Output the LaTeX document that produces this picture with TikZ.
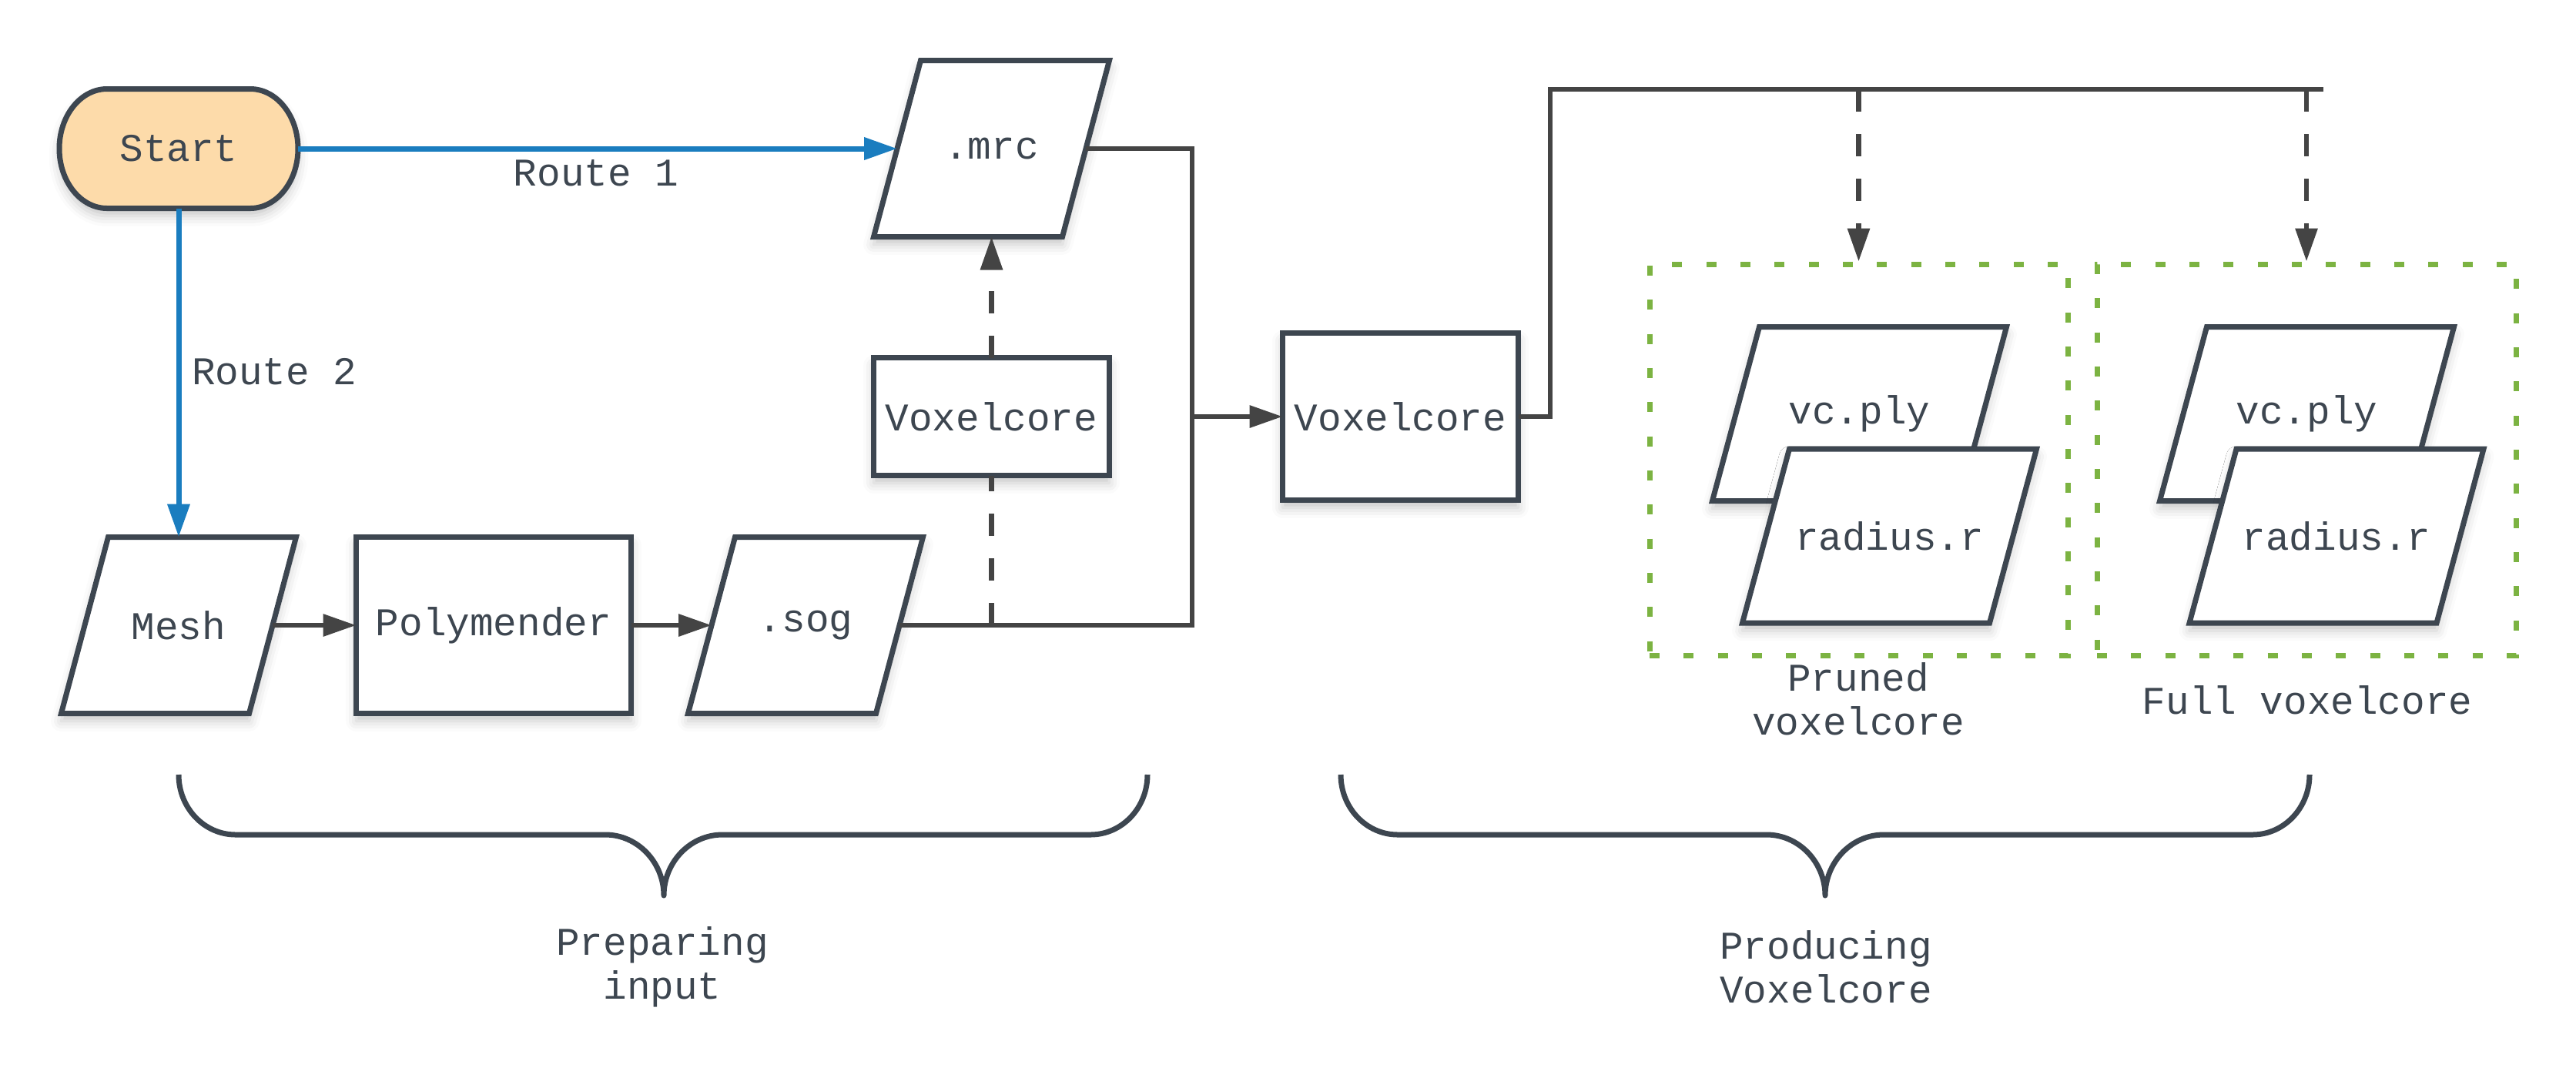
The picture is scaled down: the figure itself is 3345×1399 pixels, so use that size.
\documentclass[tikz,border=0pt]{standalone}
\usepackage{fontspec}
\setmonofont{Liberation Mono}
\usetikzlibrary{arrows.meta,shadows.blur}
\definecolor{bord}{HTML}{3D4650}
\definecolor{conc}{HTML}{444444}
\definecolor{bluec}{HTML}{1A7DBF}
\definecolor{greenc}{HTML}{7CB342}
\definecolor{startc}{HTML}{FDDBAA}
\tikzset{
  lbl/.style={font=\ttfamily\fontsize{15.3}{17.1}\selectfont, text=bord, inner sep=0pt, outer sep=0pt, align=center},
  boxsh/.style={blur shadow={shadow xshift=0pt, shadow yshift=-3pt, shadow blur radius=4pt, shadow opacity=22}},
  shapeline/.style={draw=bord, line width=2.1pt, fill=white, line join=miter, boxsh},
  conn/.style={draw=conc, line width=1.9pt},
  tip/.style={-{Triangle[length=12.9pt,width=8.4pt]}},
  dconn/.style={conn, dash pattern=on 8.7pt off 8.7pt},
  blueconn/.style={draw=bluec, line width=2.1pt, -{Triangle[length=12.9pt,width=8.4pt]}},
  greenbox/.style={draw=greenc, line width=2.1pt, dash pattern=on 3.9pt off 9.4pt, inner sep=0pt},
  bracestyle/.style={draw=bord, line width=2.1pt, line join=round},
}
\newcommand\pgram[7]{%
  \path[shapeline] ({#2-#4/2+#6/2},{#3-#5/2}) -- ({#2+#4/2+#6/2},{#3-#5/2}) -- ({#2+#4/2-#6/2},{#3+#5/2}) -- ({#2-#4/2-#6/2},{#3+#5/2}) -- cycle;
  \node[lbl, minimum width={(#4)*0.3pt}, minimum height={(#5)*0.3pt}] (#1) at (#2,#3) {#7};
}
\begin{document}
\begin{tikzpicture}[x=0.3pt,y=-0.3pt]
\useasboundingbox (0,0) rectangle (3345,1399);

% green group boxes
\node[greenbox, minimum width={543*0.3pt}, minimum height={508*0.3pt}] (pruned) at (2413.5,597) {};
\node[greenbox, minimum width={544*0.3pt}, minimum height={508*0.3pt}] (full) at (2995,597) {};

% Start
\path[shapeline, fill=startc] (139,115.5) -- (325,115.5) .. controls (359.2,115.5) and (387,150.2) .. (387,193) .. controls (387,235.8) and (359.2,270.5) .. (325,270.5) -- (139,270.5) .. controls (104.8,270.5) and (77,235.8) .. (77,193) .. controls (77,150.2) and (104.8,115.5) .. (139,115.5) -- cycle;
\node[lbl, minimum width={310*0.3pt}, minimum height={155*0.3pt}] (start) at (232,193) {Start};

% parallelograms
\pgram{mrc}{1287.5}{193}{245}{229}{61}{.mrc}
\pgram{mesh}{232}{812}{244}{229}{61}{Mesh}
\pgram{sog}{1046}{812}{244}{229}{61}{.sog}

% rectangles
\node[lbl, shapeline, minimum width={306*0.3pt}, minimum height={153*0.3pt}] (vcsmall) at (1287.5,541) {Voxelcore};
\node[lbl, shapeline, minimum width={357*0.3pt}, minimum height={229*0.3pt}] (poly) at (641,812) {Polymender};
\node[lbl, shapeline, minimum width={306*0.3pt}, minimum height={217*0.3pt}] (vcmain) at (1818.5,541) {Voxelcore};

% output files
\pgram{vcl}{2414.5}{537.5}{321}{226}{61}{vc.ply}
\pgram{rl}{2453.5}{696}{321}{226}{61}{radius.r}
\pgram{vcr}{2995.5}{537.5}{321}{226}{61}{vc.ply}
\pgram{rr}{3034}{696}{321}{226}{61}{radius.r}

% blue routes
\draw[blueconn] (start.east) -- (mrc.west);
\draw[blueconn] (start.south) -- (mesh.north);
\node[lbl] (r1) at (774,225) {Route 1};
\node[lbl, anchor=west] (r2) at (249,483) {Route 2};

% pipeline arrows
\draw[conn, tip] (mesh.east) -- (poly.west);
\draw[conn, tip] (poly.east) -- (sog.west);

% junctions
\coordinate (jr) at (1548,541);
\coordinate (js) at (1287.5,812);
\draw[conn] (sog.east) -| (jr) |- (mrc.east);
\draw[conn, tip] (jr) -- (vcmain.west);
\draw[dconn] (js) -- (vcsmall.south);
\draw[dconn, tip] (vcsmall.north) -- (mrc.south);

\coordinate (tc) at (2013,116);
\coordinate (tr) at (3017,116);
\draw[conn] (vcmain.east) -| (tc) -- (tr);
\draw[dconn, tip] (pruned.north |- tc) -- (pruned.north);
\draw[dconn, tip] (full.north |- tc) -- (full.north);

% group labels
\node[lbl] (prlbl) at (2413,908) {Pruned\\voxelcore};
\node[lbl] (fulllbl) at (2996,909) {Full voxelcore};

% braces
\draw[bracestyle] (232,1006) .. controls (232,1049) and (265,1084) .. (306,1084) -- (786,1084) .. controls (828,1084) and (862,1120) .. (862,1163) .. controls (862,1120) and (896,1084) .. (938,1084) -- (1416,1084) .. controls (1457,1084) and (1490,1049) .. (1490,1006);
\draw[bracestyle] (1741,1006) .. controls (1741,1049) and (1774,1084) .. (1815,1084) -- (2294,1084) .. controls (2336,1084) and (2370,1120) .. (2370,1163) .. controls (2370,1120) and (2404,1084) .. (2446,1084) -- (2925,1084) .. controls (2966,1084) and (2999,1049) .. (2999,1006);
\node[lbl] (prep) at (860,1256) {Preparing\\input};
\node[lbl] (prod) at (2371,1256) {Producing\\Voxelcore};
\end{tikzpicture}
\end{document}
